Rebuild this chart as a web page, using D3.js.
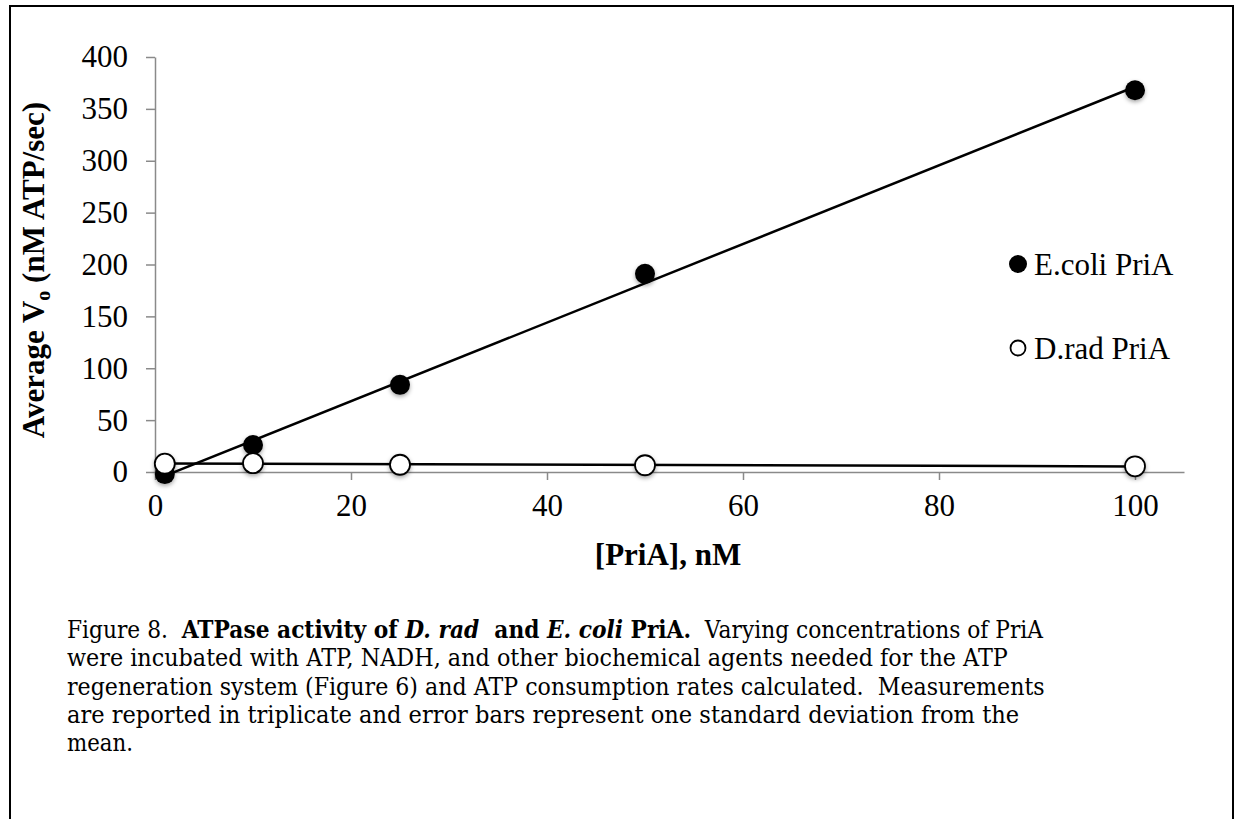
<!DOCTYPE html>
<html>
<head>
<meta charset="utf-8">
<script src="https://cdn.jsdelivr.net/npm/d3@7"></script>
<style>
  html, body { margin: 0; padding: 0; background: #fff; }
  svg { display: block; }
</style>
</head>
<body>
<svg id="chart" width="1238" height="819"></svg>
<script>
// ---- data ----
const concentrations = [1, 10, 25, 50, 100];          // [PriA], nM
const ecoliRates = [-2, 26, 84, 191, 368];             // E.coli PriA
const dradRates = [8, 8.5, 7, 6.5, 5.5];               // D.rad PriA
const xTicks = [0, 20, 40, 60, 80, 100];
const yTicks = [0, 50, 100, 150, 200, 250, 300, 350, 400];
const seriesNames = ["E.coli PriA", "D.rad PriA"];
const xTitle = "[PriA], nM";
const yTitleParts = ["Average V", "o", " (nM ATP/sec)"];
const captionLines = [
  [["Figure 8.  ", ""], ["ATPase activity of ", "b"], ["D. rad", "bi"], ["  and ", "b"], ["E. coli", "bi"], [" PriA.", "b"], ["  Varying concentrations of PriA", ""]],
  [["were incubated with ATP, NADH, and other biochemical agents needed for the ATP", ""]],
  [["regeneration system (Figure 6) and ATP consumption rates calculated.  Measurements", ""]],
  [["are reported in triplicate and error bars represent one standard deviation from the", ""]],
  [["mean.", ""]]
];
const captionWidths = [977, 941, 978, 953, 66];

// ---- layout ----
const svg = d3.select("#chart");
const serif = "'Liberation Serif', 'Times New Roman', serif";
const capFont = "'DejaVu Serif', serif";

const x = d3.scaleLinear().domain([0, 105]).range([155, 1184]);
const y = d3.scaleLinear().domain([0, 400]).range([472, 57]);

// outer frame
svg.append("rect").attr("x", 10).attr("y", 6).attr("width", 1223).attr("height", 900)
  .attr("fill", "none").attr("stroke", "#000").attr("stroke-width", 2);

// shadow filter
const defs = svg.append("defs");
const f = defs.append("filter").attr("id", "shadow").attr("x", "-50%").attr("y", "-50%").attr("width", "200%").attr("height", "200%");
f.append("feDropShadow").attr("dx", 0).attr("dy", 2).attr("stdDeviation", 2).attr("flood-color", "#000").attr("flood-opacity", 0.35);

const axisColor = "#8a8a8a";

// y axis
const yAxis = svg.append("g").attr("transform", `translate(${x(0)},0)`)
  .call(d3.axisLeft(y).tickValues(yTicks).tickSize(9).tickSizeOuter(0).tickPadding(18));
// x axis
const xAxis = svg.append("g").attr("transform", `translate(0,${y(0)})`)
  .call(d3.axisBottom(x).tickValues(xTicks).tickSize(8).tickSizeOuter(0).tickPadding(14));

[xAxis, yAxis].forEach(g => {
  g.select(".domain").attr("stroke", axisColor).attr("stroke-width", 1.5);
  g.selectAll(".tick line").attr("stroke", axisColor).attr("stroke-width", 1.5);
  g.selectAll(".tick text").attr("fill", "#000").attr("font-family", serif).attr("font-size", 31);
});
xAxis.selectAll(".tick text").attr("dy", "0.71em");

// axis titles
svg.append("text").attr("x", 668).attr("y", 565).attr("text-anchor", "middle")
  .attr("font-family", serif).attr("font-size", 31).attr("font-weight", "bold").text(xTitle);

const yt = svg.append("text").attr("transform", "translate(44,270) rotate(-90)")
  .attr("text-anchor", "middle").attr("font-family", serif).attr("font-size", 31).attr("font-weight", "bold");
yt.append("tspan").text(yTitleParts[0]);
yt.append("tspan").attr("font-size", 20).attr("dy", 6).text(yTitleParts[1]);
yt.append("tspan").attr("dy", -6).text(yTitleParts[2]);

// linear regression trendlines
function fit(xs, ys) {
  const n = xs.length, mx = d3.mean(xs), my = d3.mean(ys);
  let sxy = 0, sxx = 0;
  for (let i = 0; i < n; i++) { sxy += (xs[i] - mx) * (ys[i] - my); sxx += (xs[i] - mx) ** 2; }
  const b = sxy / sxx, a = my - b * mx;
  const x0 = d3.min(xs), x1 = d3.max(xs);
  return [[x0, a + b * x0], [x1, a + b * x1]];
}
const line = d3.line().x(d => x(d[0])).y(d => y(d[1]));
[ecoliRates, dradRates].forEach(ys => {
  svg.append("path").attr("d", line(fit(concentrations, ys)))
    .attr("fill", "none").attr("stroke", "#000").attr("stroke-width", 2.5);
});

// markers
const ecoliPts = concentrations.map((c, i) => [c, ecoliRates[i]]);
const dradPts = concentrations.map((c, i) => [c, dradRates[i]]);
svg.append("g").attr("filter", "url(#shadow)").selectAll("circle").data(ecoliPts).join("circle")
  .attr("cx", d => x(d[0])).attr("cy", d => y(d[1])).attr("r", 10).attr("fill", "#000");
svg.append("g").attr("filter", "url(#shadow)").selectAll("circle").data(dradPts).join("circle")
  .attr("cx", d => x(d[0])).attr("cy", d => y(d[1])).attr("r", 10)
  .attr("fill", "#fff").attr("stroke", "#000").attr("stroke-width", 1.8);

// legend
const lg = svg.append("g");
lg.append("circle").attr("cx", 1018).attr("cy", 264).attr("r", 9).attr("fill", "#000");
lg.append("text").attr("x", 1034).attr("y", 275).attr("font-family", serif).attr("font-size", 31).text(seriesNames[0]);
lg.append("circle").attr("cx", 1018).attr("cy", 348).attr("r", 7.5).attr("fill", "#fff").attr("stroke", "#000").attr("stroke-width", 1.8);
lg.append("text").attr("x", 1034).attr("y", 359).attr("font-family", serif).attr("font-size", 31).text(seriesNames[1]);

// caption (each line horizontally scaled to the reference line width)
captionLines.forEach((segs, i) => {
  const g = svg.append("g");
  const t = g.append("text").attr("x", 0).attr("y", 0)
    .attr("font-family", capFont).attr("font-size", 23.5).attr("fill", "#000")
    .attr("xml:space", "preserve").style("white-space", "pre");
  segs.forEach(([txt, st]) => {
    t.append("tspan").text(txt)
      .attr("font-weight", st.includes("b") ? "bold" : "normal")
      .attr("font-style", st.includes("i") ? "italic" : "normal");
  });
  const w = t.node().getComputedTextLength();
  const sx = w > 0 ? captionWidths[i] / w : 1;
  g.attr("transform", `translate(67,${638 + i * 28.3}) scale(${sx},1)`);
});
</script>
</body>
</html>
